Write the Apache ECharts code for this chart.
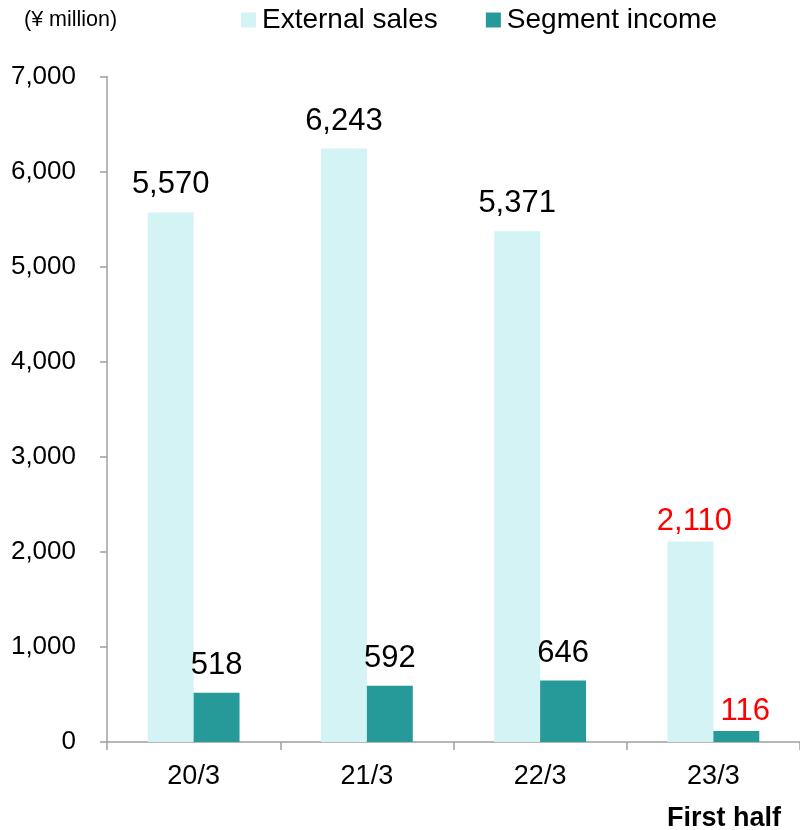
<!DOCTYPE html>
<html>
<head>
<meta charset="utf-8">
<script src="https://cdn.jsdelivr.net/npm/echarts@6/dist/echarts.min.js"></script>
<style>html,body{margin:0;padding:0;background:#fff}#c{width:800px;height:830px}</style>
</head>
<body>
<div id="c"></div>
<script>
var categories = ['20/3', '21/3', '22/3', '23/3'];
var externalSales = [5570, 6243, 5371, 2110];
var segmentIncome = [518, 592, 646, 116];
var yTicks = [0, 1000, 2000, 3000, 4000, 5000, 6000, 7000];
var highlightIndex = 3;

var FONT = 'Liberation Sans, Arial, sans-serif';
function fmt(v) { return v.toLocaleString('en-US'); }
function mkData(arr, dx) {
  return arr.map(function (v, i) {
    return i === highlightIndex ? { value: v, label: { color: '#FF0000', distance: 4, offset: [dx, 0] } } : v;
  });
}
var chart = echarts.init(document.getElementById('c'), null, { renderer: 'canvas' });
chart.setOption({
  backgroundColor: '#fff',
  animation: false,
  textStyle: { fontFamily: FONT },
  title: {
    text: '(¥ million)', left: 19, top: 4,
    textStyle: { fontFamily: FONT, fontSize: 21.5, fontWeight: 'normal', color: '#000' }
  },
  legend: {
    left: 236, top: 1, itemWidth: 15, itemHeight: 15, itemGap: 48,
    icon: 'rect',
    textStyle: { fontFamily: FONT, fontSize: 28, color: '#000', padding: [0, 0, 0, 1] },
    data: ['External sales', 'Segment income']
  },
  grid: { left: 107, top: 76.5, height: 665.5, width: 697 },
  xAxis: {
    type: 'category', data: categories,
    axisLine: { lineStyle: { color: '#A0A0A0', width: 1.5 } },
    axisTick: { show: true, length: 8, lineStyle: { color: '#A0A0A0', width: 1.5 } },
    axisLabel: { fontFamily: FONT, fontSize: 27, color: '#000', margin: 21 }
  },
  yAxis: {
    type: 'value', min: yTicks[0], max: yTicks[yTicks.length - 1], interval: 1000,
    axisLine: { show: true, lineStyle: { color: '#A0A0A0', width: 1.5 } },
    axisTick: { show: true, length: 7, lineStyle: { color: '#A0A0A0', width: 1.5 } },
    splitLine: { show: false },
    axisLabel: { fontFamily: FONT, fontSize: 26, color: '#000', margin: 31, formatter: function (v) { return fmt(v); } }
  },
  graphic: [{
    type: 'text', right: 19, top: 805,
    style: { text: 'First half', font: 'bold 27px ' + FONT, fill: '#000' }
  }],
  series: [{
    name: 'External sales', type: 'bar', data: mkData(externalSales, 4),
    barGap: '0%', barCategoryGap: '47%',
    itemStyle: { color: '#D3F3F4' },
    label: { show: true, position: 'top', distance: 12, fontFamily: FONT, fontSize: 31, color: '#000', formatter: function (p) { return fmt(p.value); } }
  }, {
    name: 'Segment income', type: 'bar', data: mkData(segmentIncome, 9),
    barGap: '0%', barCategoryGap: '47%',
    itemStyle: { color: '#269A98' },
    label: { show: true, position: 'top', distance: 12, fontFamily: FONT, fontSize: 31, color: '#000', formatter: function (p) { return fmt(p.value); } }
  }]
});
</script>
</body>
</html>
